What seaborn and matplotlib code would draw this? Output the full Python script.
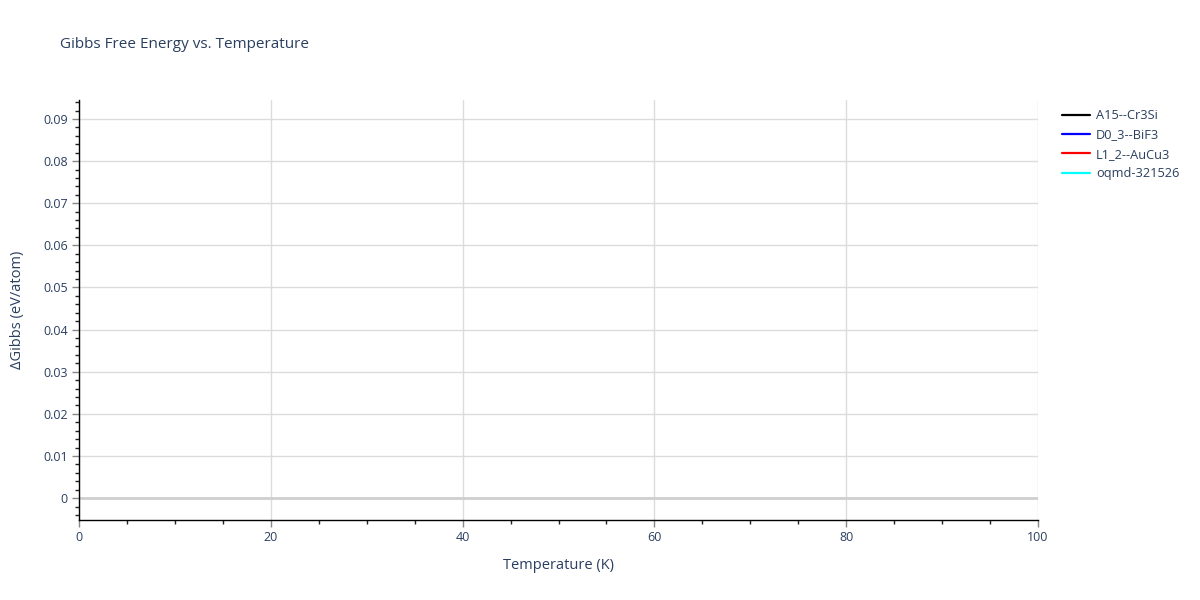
import numpy as np
import pandas as pd
import seaborn as sns
import matplotlib.pyplot as plt
from matplotlib.lines import Line2D
from matplotlib.ticker import MultipleLocator, FuncFormatter

# series shown in the legend; no points are visible inside the plotted range
structures = ["A15--Cr3Si", "D0_3--BiF3", "L1_2--AuCu3", "oqmd-321526"]
line_colors = ["black", "blue", "red", "cyan"]
temperature = []
gibbs_a15 = []
gibbs_d03 = []
gibbs_l12 = []
gibbs_oqmd = []
series = [gibbs_a15, gibbs_d03, gibbs_l12, gibbs_oqmd]

x_range = (0, 100)
y_range = (-0.0052, 0.0945)

sns.set_style("white")
plt.rcParams["font.family"] = ["Open Sans", "DejaVu Sans"]
text_col = "#2a3f5f"

fig = plt.figure(figsize=(12, 6), dpi=100)
ax = fig.add_axes([79 / 1200, 80 / 600, (1038 - 79) / 1200, 420 / 600])

for name, col, vals in zip(structures, line_colors, series):
    if len(vals) > 0:
        df = pd.DataFrame({"T": temperature, "G": vals})
        sns.lineplot(data=df, x="T", y="G", color=col, linewidth=2, ax=ax, legend=False)

ax.set_xlim(*x_range)
ax.set_ylim(*y_range)

ax.xaxis.set_major_locator(MultipleLocator(20))
ax.xaxis.set_minor_locator(MultipleLocator(5))
ax.yaxis.set_major_locator(MultipleLocator(0.01))
ax.yaxis.set_minor_locator(MultipleLocator(0.002))
ax.yaxis.set_major_formatter(FuncFormatter(lambda v, p: "0" if abs(v) < 1e-9 else f"{v:.2f}"))

ax.grid(True, which="major", color="#dcdcdc", linewidth=1)
ax.axhline(0, color="#cfcfcf", linewidth=2, zorder=1)
for s in ["top", "right"]:
    ax.spines[s].set_visible(False)
for s in ["left", "bottom"]:
    ax.spines[s].set_color("black")
    ax.spines[s].set_linewidth(1)

ax.tick_params(which="major", direction="out", length=5, width=1, color="#888888",
               labelsize=9, labelcolor=text_col, pad=3)
ax.tick_params(which="minor", direction="out", length=3, width=1, color="#222222")
ax.tick_params(axis="x", which="both", bottom=True)
ax.tick_params(axis="y", which="both", left=True)

ax.set_xlabel("Temperature (K)", fontsize=10.5, color=text_col, labelpad=10)
ax.set_ylabel("\u0394Gibbs (eV/atom)", fontsize=10.5, color=text_col, labelpad=13)
fig.text(60 / 1200, 1 - 45 / 600, "Gibbs Free Energy vs. Temperature",
         fontsize=11, color=text_col, va="center", ha="left")

handles = [Line2D([], [], color=c, linewidth=1.6) for c in line_colors]
leg = fig.legend(handles, structures, loc="upper left",
                 bbox_to_anchor=(1057 / 1200, 1 - 104 / 600), frameon=False,
                 fontsize=9.2, handlelength=2.2, handletextpad=0.45,
                 labelspacing=0.5, borderaxespad=0)
for t in leg.get_texts():
    t.set_color(text_col)

fig.savefig("out.png", dpi=100)
